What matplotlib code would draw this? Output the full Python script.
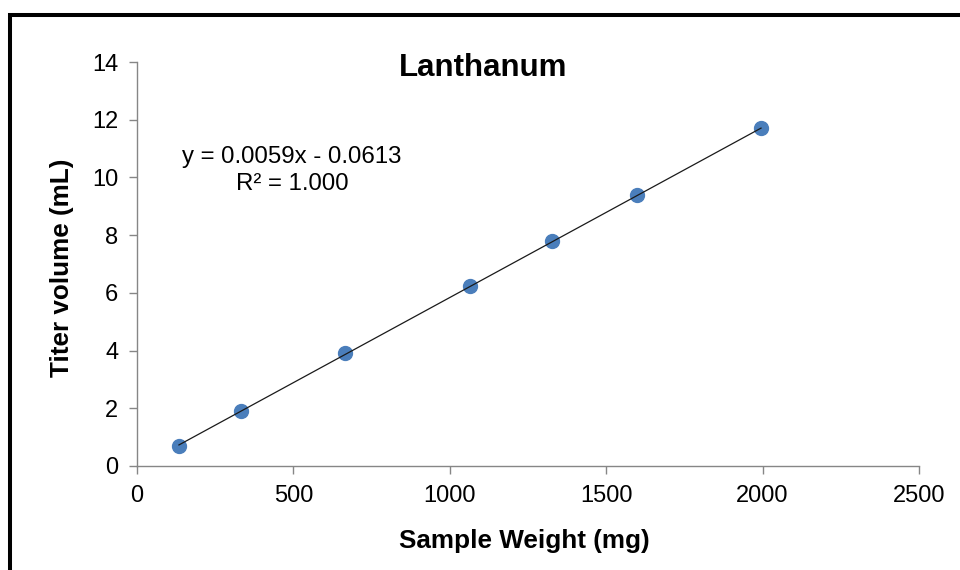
import numpy as np
import matplotlib.pyplot as plt
from matplotlib.patches import Rectangle

plt.rcParams['font.family'] = ['Liberation Sans', 'DejaVu Sans']

# Data
sample_weight = [134, 332, 666, 1066, 1327, 1600, 1995]
titer_volume = [0.69, 1.89, 3.93, 6.25, 7.80, 9.39, 11.70]
x_ticks = [0, 500, 1000, 1500, 2000, 2500]
y_ticks = [0, 2, 4, 6, 8, 10, 12, 14]
slope, intercept = 0.0059, -0.0613

W, H = 960, 570
fig = plt.figure(figsize=(9.6, 5.7), dpi=100)
ax = fig.add_axes([137 / W, 1 - 466 / H, (919 - 137) / W, (466 - 62) / H])

# linear trendline over the data range
xs = np.array([min(sample_weight), max(sample_weight)])
ax.plot(xs, slope * xs + intercept, color='#1a1a1a', lw=0.9, zorder=3)
ax.plot(sample_weight, titer_volume, 'o', color='#4A7EBB', ms=10,
        mec='#4A7EBB', zorder=2)

ax.set_xlim(0, 2500)
ax.set_ylim(0, 14)
ax.set_xticks(x_ticks)
ax.set_yticks(y_ticks)
for s in ['top', 'right']:
    ax.spines[s].set_visible(False)
for s in ['left', 'bottom']:
    ax.spines[s].set_color('#868686')
    ax.spines[s].set_linewidth(1.0)
ax.tick_params(axis='both', direction='out', length=6, width=1.0,
               color='#868686', labelsize=17, pad=7.5)

# titles / labels placed like the Excel chart area
fig.text(483 / W, 1 - 76 / H, 'Lanthanum', ha='center', va='baseline',
         fontsize=22.5, fontweight='bold')
fig.text(524 / W, 1 - 548 / H, 'Sample Weight (mg)', ha='center',
         va='baseline', fontsize=18.8, fontweight='bold')
fig.text(62 / W, 1 - 268 / H, 'Titer volume (mL)', ha='center', va='center',
         rotation=90, fontsize=18.8, fontweight='bold')

# trendline equation
fig.text(292 / W, 1 - 163 / H, 'y = 0.0059x - 0.0613', ha='center',
         va='baseline', fontsize=17.3)
fig.text(292 / W, 1 - 189.5 / H, 'R² = 1.000', ha='center', va='baseline',
         fontsize=17.3)

# black frame around the chart
frame = Rectangle((10.3 / W, -0.2), 1.3, 1.2 - 15.3 / H,
                  transform=fig.transFigure, fill=False, ec='black',
                  lw=2.9, clip_on=False)
fig.patches.append(frame)

fig.savefig('out.png', dpi=100)
